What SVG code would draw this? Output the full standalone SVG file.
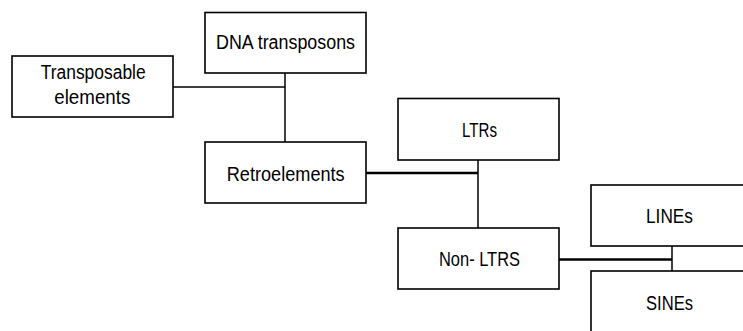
<svg xmlns="http://www.w3.org/2000/svg" width="743" height="331" viewBox="0 0 743 331">
<style>
.box{fill:#fff;stroke:#000;stroke-width:1.6}
.t{font-family:"Liberation Sans",Arial,sans-serif;font-size:20px;fill:#000}
.c{stroke:#000;stroke-width:1.5;fill:none}
.c2{stroke:#000;stroke-width:2.4;fill:none}
</style>
<rect width="743" height="331" fill="#fff"/>
<g id="connectors">
<line class="c" x1="285" y1="73" x2="285" y2="142"/>
<line class="c" x1="173" y1="87" x2="285" y2="87"/>
<line class="c2" x1="366" y1="173" x2="478" y2="173"/>
<line class="c" x1="478" y1="160" x2="478" y2="228"/>
<line class="c2" x1="559" y1="259.5" x2="672" y2="259.5"/>
<line class="c" x1="672" y1="246" x2="672" y2="271"/>
</g>
<g id="transposable">
<rect class="box" x="12" y="56" width="161" height="61"/>
<text class="t" x="40.7" y="79" textLength="105" lengthAdjust="spacingAndGlyphs">Transposable</text>
<text class="t" x="54.3" y="104.3" textLength="76" lengthAdjust="spacingAndGlyphs">elements</text>
</g>
<g id="dna">
<rect class="box" x="205" y="12.5" width="161" height="60.5"/>
<text class="t" x="216" y="49.3" textLength="139" lengthAdjust="spacingAndGlyphs">DNA transposons</text>
</g>
<g id="retro">
<rect class="box" x="205" y="142" width="161" height="61"/>
<text class="t" x="226.7" y="180.7" textLength="118" lengthAdjust="spacingAndGlyphs">Retroelements</text>
</g>
<g id="ltrs">
<rect class="box" x="398" y="98.5" width="161" height="61.5"/>
<text class="t" x="462" y="136.7" textLength="35" lengthAdjust="spacingAndGlyphs">LTRs</text>
</g>
<g id="nonltrs">
<rect class="box" x="398" y="228" width="161" height="61"/>
<text class="t" x="439" y="266" textLength="81" lengthAdjust="spacingAndGlyphs">Non- LTRS</text>
</g>
<g id="lines">
<rect class="box" x="591" y="185" width="170" height="61"/>
<text class="t" x="646" y="223.3" textLength="47" lengthAdjust="spacingAndGlyphs">LINEs</text>
</g>
<g id="sines">
<rect class="box" x="591" y="271" width="170" height="80"/>
<text class="t" x="646" y="310" textLength="47" lengthAdjust="spacingAndGlyphs">SINEs</text>
</g>
</svg>
